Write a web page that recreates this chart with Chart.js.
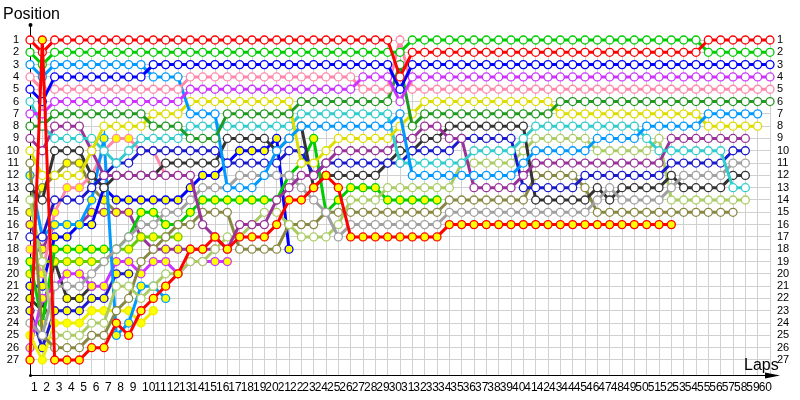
<!DOCTYPE html>
<html>
<head>
<meta charset="utf-8">
<title>Lap chart</title>
<script src="https://cdn.jsdelivr.net/npm/chart.js@4.4.1/dist/chart.umd.min.js"></script>
<style>
  body { margin: 0; background: #fff; }
  #box { width: 800px; height: 400px; }
</style>
</head>
<body>
<div id="box"><canvas id="lapChart" width="800" height="400"></canvas></div>
<script>
// column 0 is the grid, the axis labels run 1..60
const lapLabels = ['1','2','3','4','5','6','7','8','9','10','11','12','13','14','15','16','17','18','19','20',
  '21','22','23','24','25','26','27','28','29','30','31','32','33','34','35','36','37','38','39','40',
  '41','42','43','44','45','46','47','48','49','50','51','52','53','54','55','56','57','58','59','60',''];
const positionTicks = [1,2,3,4,5,6,7,8,9,10,11,12,13,14,15,16,17,18,19,20,21,22,23,24,25,26,27];

// positions per lap, one array per car (shorter array = retired)
const posRed = [1,2,1,1,1,1,1,1,1,1, 1,1,1,1,1,1,1,1,1,1, 1,1,1,1,1,1,1,1,1,1,
  4,2,2,2,2,2,2,2,2,2, 2,2,2,2,2,2,2,2,2,2, 2,2,2,2,2,1,1,1,1,1, 1];
const posGreen = [2,3,2,2,2,2,2,2,2,2, 2,2,2,2,2,2,2,2,2,2, 2,2,2,2,2,2,2,2,2,2,
  2,1,1,1,1,1,1,1,1,1, 1,1,1,1,1,1,1,1,1,1, 1,1,1,1,1,2,2,2,2,2, 2];
const posBlue = [5,6,4,4,4,4,4,4,4,4, 3,3,3,3,3,3,3,3,3,3, 3,3,3,3,3,3,3,3,3,3,
  5,3,3,3,3,3,3,3,3,3, 3,3,3,3,3,3,3,3,3,3, 3,3,3,3,3,3,3,3,3,3, 3];
const posViolet = [7,7,6,6,6,6,6,6,6,6, 6,6,6,5,5,5,5,5,5,5, 5,5,5,5,5,5,5,4,4,4,
  6,4,4,4,4,4,4,4,4,4, 4,4,4,4,4,4,4,4,4,4, 4,4,4,4,4,4,4,4,4,4, 4];
const posPink = [4,5,5,5,5,5,5,5,5,5, 5,5,5,4,4,4,4,4,4,4, 4,4,4,4,4,4,4,5,5,5,
  1,5,5,5,5,5,5,5,5,5, 5,5,5,5,5,5,5,5,5,5, 5,5,5,5,5,5,5,5,5,5, 5];
const posDarkGreen = [8,8,7,7,7,7,7,7,7,7, 8,8,8,9,9,9,7,7,7,7, 7,7,6,6,6,6,6,6,6,6,
  3,8,7,7,7,7,7,7,7,7, 7,7,7,6,6,6,6,6,6,6, 6,6,6,6,6,6,6,6,6,6, 6];
const posAzure = [3,4,3,3,3,3,3,3,3,3, 4,4,4,7,7,7,13,13,13,12, 10,9,8,8,8,8,8,8,8,8,
  7,12,12,12,12,12,12,12,12,12, 11,10,10,10,10,10,9,9,9,9, 8,8,8,8,8,7,7,7,7,7];
const posYellow = [10,12,12,12,12,10,8,8,8,8, 7,7,7,6,6,6,6,6,6,6, 6,6,11,11,10,9,9,9,9,9,
  8,7,6,6,6,6,6,6,6,6, 6,6,6,7,7,7,7,7,7,7, 7,7,7,7,7,8,8,8,8,8];
const posCyan = [6,8,9,9,9,9,10,11,10,9, 9,9,9,8,8,8,8,8,8,8, 8,8,7,7,7,7,7,7,7,7,
  11,11,11,11,11,11,10,10,10,10, 9,8,8,8,8,8,8,8,8,8, 9,10,10,10,10,10,10,13,13];
const posPurple = [9,10,8,8,8,10,12,12,12,12, 12,12,12,12,16,17,18,16,16,16, 14,13,12,12,11,10,10,10,10,10,
  9,9,8,8,9,9,13,13,13,13, 12,11,11,11,11,11,11,11,11,11, 11,11,9,9,9,9,9,9,9];
const posOlive = [11,25,26,26,26,25,25,23,22,19, 18,17,16,16,15,15,15,18,18,18, 18,16,16,16,15,15,15,15,15,15,
  15,15,15,15,14,14,14,14,14,14, 14,12,12,12,12,13,15,15,15,15, 15,15,15,15,15,15,15,15];
const posDarkGray = [13,14,10,10,10,12,13,12,12,12, 12,11,11,11,11,11,9,9,9,9, 10,9,8,13,12,12,12,12,12,11,
  10,10,9,9,8,8,8,8,8,8, 8,14,14,14,14,14,13,14,13,13, 13,13,12,13,13,13,13,12,12];
const posLightOlive = [14,19,25,25,25,24,24,21,21,22, 21,20,20,19,19,18,17,17,16,15, 15,16,17,17,17,16,14,14,14,13,
  13,13,13,13,13,11,11,11,11,11, 10,9,9,9,9,9,10,10,10,10, 10,9,14,14,14,14,14,14,14];
const posNavy = [17,17,14,14,14,13,12,11,11,10, 10,10,10,10,10,10,11,11,11,11, 11,10,10,12,11,11,11,11,11,11,
  11,10,10,10,10,9,9,9,9,9, 13,13,13,13,13,12,12,12,12,12, 12,12,11,11,11,11,11,10,10];
const posGray = [24,25,21,21,21,20,19,18,17,16, 16,15,15,14,13,13,13,12,12,12, 12,12,13,14,15,17,16,16,16,16,
  16,16,16,16,15,15,15,15,15,15, 15,15,15,15,15,15,14,13,14,14, 14,14,13,12,12,12,12,11,11];
const posRedB = [27,1,27,27,27,26,26,24,25,23, 22,21,20,18,18,17,18,17,17,17, 16,14,14,13,12,13,17,17,17,17,
  17,17,17,17,16,16,16,16,16,16, 16,16,16,16,16,16,16,16,16,16, 16,16,16];
const posAzureB = [12,17,16,16,16,14,9,25,24,21, 21,22];
const posYellowB = [25,27,24,24,24,23,23,23,23,24, 23];
const posVioletB = [26,22,21,20,20,21,21,19,19,20, 19,19,20,19,19,19,19];
const posPinkB = [18,20,15,13,13,12,10,9,9,10, 10,12,12];
const posGreenB = [19,24,18,18,18,18,18,18,17,15, 15,16,16,15,14,14,14,14,14,14, 14,12,11,9,15,14,13,13,13,14,
  14,14,14,14];
const posLimeB = [20,19,19,19,19,19,19,18,18,17, 17,17,17];
const posBlueB = [21,21,17,17,16,16,13,14,14,14, 14,14,14,13,12,12,11,10,10,10, 9,18];
const posNavyB = [23,26,23,23,23,22,22,20,20];
const posDarkGrayB = [22,23,19,22,22,21];
const posPurpleB = [16,18,16,16,16,15,15,15,15,17, 18,18,18,18,18,18];
const posOliveB = [15,13,12,11,11,13,14,15];

const drivers = [
  { name: 'Red 2', pos: posRedB, color: '#ff0000', filled: true },
  { name: 'Red 1', pos: posRed, color: '#ff0000', filled: false },
  { name: 'Green 1', pos: posGreen, color: '#00cc00', filled: false },
  { name: 'Blue 1', pos: posBlue, color: '#0000ff', filled: false },
  { name: 'Violet 1', pos: posViolet, color: '#cc33ff', filled: false },
  { name: 'Pink 1', pos: posPink, color: '#ff88aa', filled: false },
  { name: 'Dark green 1', pos: posDarkGreen, color: '#229922', filled: false },
  { name: 'Azure 1', pos: posAzure, color: '#0099ff', filled: false },
  { name: 'Yellow 1', pos: posYellow, color: '#dddd00', filled: false },
  { name: 'Cyan 1', pos: posCyan, color: '#33cccc', filled: false },
  { name: 'Purple 1', pos: posPurple, color: '#993399', filled: false },
  { name: 'Navy 1', pos: posNavy, color: '#1a1acc', filled: false },
  { name: 'Gray 1', pos: posGray, color: '#a0a0a0', filled: false },
  { name: 'Dark gray 1', pos: posDarkGray, color: '#333333', filled: false },
  { name: 'Light olive 1', pos: posLightOlive, color: '#aacc66', filled: false },
  { name: 'Olive 1', pos: posOlive, color: '#888844', filled: false },
  { name: 'Azure 2', pos: posAzureB, color: '#0099ff', filled: true },
  { name: 'Yellow 2', pos: posYellowB, color: '#eeee00', filled: true },
  { name: 'Violet 2', pos: posVioletB, color: '#cc33ff', filled: true },
  { name: 'Pink 2', pos: posPinkB, color: '#ff88aa', filled: true },
  { name: 'Green 2', pos: posGreenB, color: '#00cc00', filled: true },
  { name: 'Lime 2', pos: posLimeB, color: '#66cc00', filled: true },
  { name: 'Blue 2', pos: posBlueB, color: '#0000ff', filled: true },
  { name: 'Navy 2', pos: posNavyB, color: '#1a1acc', filled: true },
  { name: 'Dark gray 2', pos: posDarkGrayB, color: '#333333', filled: true },
  { name: 'Purple 2', pos: posPurpleB, color: '#993399', filled: true },
  { name: 'Olive 2', pos: posOliveB, color: '#888844', filled: true }
];

// axis lines, arrows and all text
const axesPlugin = {
  id: 'axesPlugin',
  beforeDatasetsDraw(chart) {
    const { ctx, chartArea: a } = chart;
    ctx.save();
    ctx.strokeStyle = '#000';
    ctx.fillStyle = '#000';
    ctx.lineWidth = 1;
    ctx.beginPath();
    ctx.moveTo(a.left + 0.5, a.bottom);
    ctx.lineTo(a.left + 0.5, 25);
    ctx.moveTo(a.left, a.bottom + 0.5);
    ctx.lineTo(776, a.bottom + 0.5);
    ctx.stroke();
    ctx.beginPath();
    ctx.arc(a.left + 0.5, 25, 2, 0, Math.PI * 2);
    ctx.arc(a.left + 0.5, a.bottom + 0.5, 1.5, 0, Math.PI * 2);
    ctx.fill();
    ctx.beginPath();
    ctx.moveTo(780, a.bottom + 0.5);
    ctx.lineTo(765, a.bottom - 2.5);
    ctx.lineTo(765, a.bottom + 3.5);
    ctx.closePath();
    ctx.fill();
    ctx.restore();
  },
  afterDraw(chart) {
    const { ctx, scales: { x, y } } = chart;
    ctx.save();
    ctx.fillStyle = '#000';
    ctx.textBaseline = 'middle';
    ctx.font = '11px "Liberation Sans", Arial, sans-serif';
    positionTicks.forEach(p => {
      const py = y.getPixelForValue(p);
      ctx.textAlign = 'right';
      ctx.fillText(String(p), 19, py);
      ctx.textAlign = 'left';
      ctx.fillText(String(p), 777, py);
    });
    ctx.font = '12px "Liberation Sans", Arial, sans-serif';
    ctx.textAlign = 'left';
    lapLabels.forEach((lab, i) => {
      ctx.fillText(lab, x.getPixelForValue(i) + 1, 388);
    });
    ctx.font = '16px "Liberation Sans", Arial, sans-serif';
    ctx.fillText('Position', 3, 15);
    ctx.fillText('Laps', 744, 366);
    ctx.restore();
  }
};

const datasets = drivers.map(d => ({
  label: d.name,
  data: d.pos,
  borderColor: d.color,
  backgroundColor: d.color,
  borderWidth: 3,
  pointRadius: 4,
  pointBorderWidth: 1.3,
  pointBorderColor: d.color,
  pointBackgroundColor: d.filled ? '#ffff00' : '#ffffff',
  tension: 0,
  clip: false
}));

new Chart(document.getElementById('lapChart'), {
  type: 'line',
  data: { labels: lapLabels, datasets: datasets },
  options: {
    responsive: false,
    animation: false,
    layout: { padding: { left: 30, right: 30, top: 40, bottom: 25 } },
    plugins: { legend: { display: false }, tooltip: { enabled: false } },
    scales: {
      x: {
        type: 'category',
        offset: false,
        grid: { color: '#d0d0d0', drawTicks: false },
        border: { display: false },
        ticks: { display: false, autoSkip: false }
      },
      y: {
        type: 'linear',
        reverse: true,
        min: 1,
        max: 28.22,
        grid: { color: '#d0d0d0', drawTicks: false },
        border: { display: false },
        ticks: { display: false },
        afterBuildTicks: s => { s.ticks = positionTicks.map(v => ({ value: v })); }
      }
    }
  },
  plugins: [axesPlugin]
});
</script>
</body>
</html>
